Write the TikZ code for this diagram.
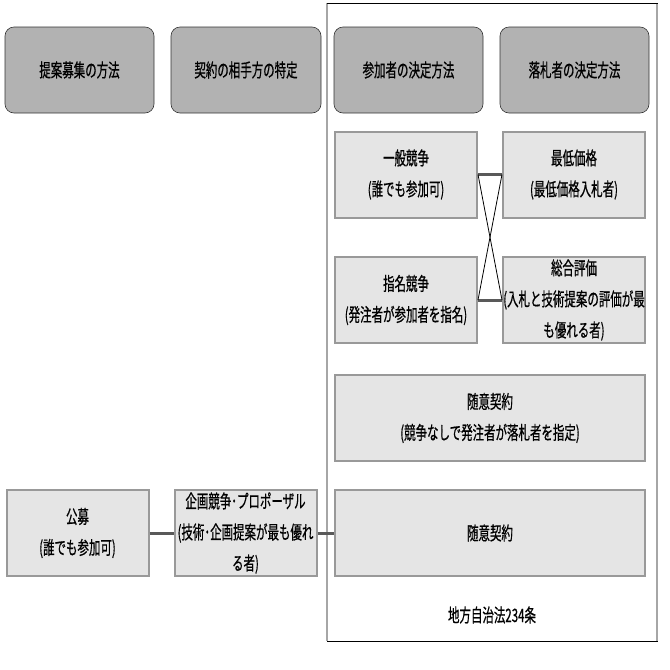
\documentclass[tikz,border=0pt]{standalone}
\usepackage{fontspec}
\newfontfamily\jpfont[FakeStretch=0.62, FakeBold=0.6]{Noto Sans CJK JP}
\usetikzlibrary{positioning}

\begin{document}
\begin{tikzpicture}[x=1pt,y=-1pt]
		\tikzset{every node/.style={font=\jpfont\fontsize{18.5}{31}\selectfont, align=center, inner sep=0pt},
			head/.style={draw=black!80, line width=0.6pt, fill=black!30, rounded corners=9pt, minimum width=149pt, minimum height=86pt},
			cell/.style={draw=black!40, line width=2pt, fill=black!10, minimum width=142pt, minimum height=86pt},
			wide/.style={cell, minimum width=310pt},
			bar/.style={line width=3pt, black!65},
			cross/.style={line width=0.8pt, black}}
		\useasboundingbox (0,0) rectangle (670,670);
		% frame of the law section
		\draw [line width=1.2pt, black!35] (327,3) -- (327,641);
		\draw [line width=1.2pt, black!35] (657,3) -- (657,641);
		\draw [line width=1pt, black] (327,3) -- (658,3);
		\draw [line width=1pt, black] (327,641) -- (658,641);
		% headers
		\node [head] (hmethod) at (79.5,70) {提案募集の方法};
		\node [head, minimum width=150pt] (hpartner) at (246,70) {契約の相手方の特定};
		\node [head] (hjoin) at (408.5,70) {参加者の決定方法};
		\node [head] (hwin) at (574.5,70) {落札者の決定方法};
		% participants / winners
		\node [cell] (general) at (406,174.5) {一般競争\\(誰でも参加可)};
		\node [cell] (lowest) at (574,174.5) {最低価格\\(最低価格入札者)};
		\node [cell] (named) at (406,300) {指名競争\\(発注者が参加者を指名)};
		\node [cell] (overall) at (574,300) {総合評価\\(入札と技術提案の評価が最\\も優れる者)};
		\node [wide] (free1) at (490,418) {随意契約\\(競争なしで発注者が落札者を指定)};
		\node [wide] (free2) at (490,533) {随意契約};
		\node [cell] (public) at (77.5,533) {公募\\(誰でも参加可)};
		\node [cell] (plan) at (245.5,533) {企画競争･プロポーザル\\(技術･企画提案が最も優れ\\る者)};
		\node (law) at (492,615) {地方自治法234条};
		% connectors
		\draw [bar] (general.east) -- (lowest.west);
		\draw [bar] (named.east) -- (overall.west);
		\draw [cross] (general.east) -- (overall.west);
		\draw [cross] (lowest.west) -- (named.east);
		\draw [bar] (public.east) -- (plan.west);
		\draw [bar] (plan.east) -- (free2.west);
	\end{tikzpicture}
\end{document}
